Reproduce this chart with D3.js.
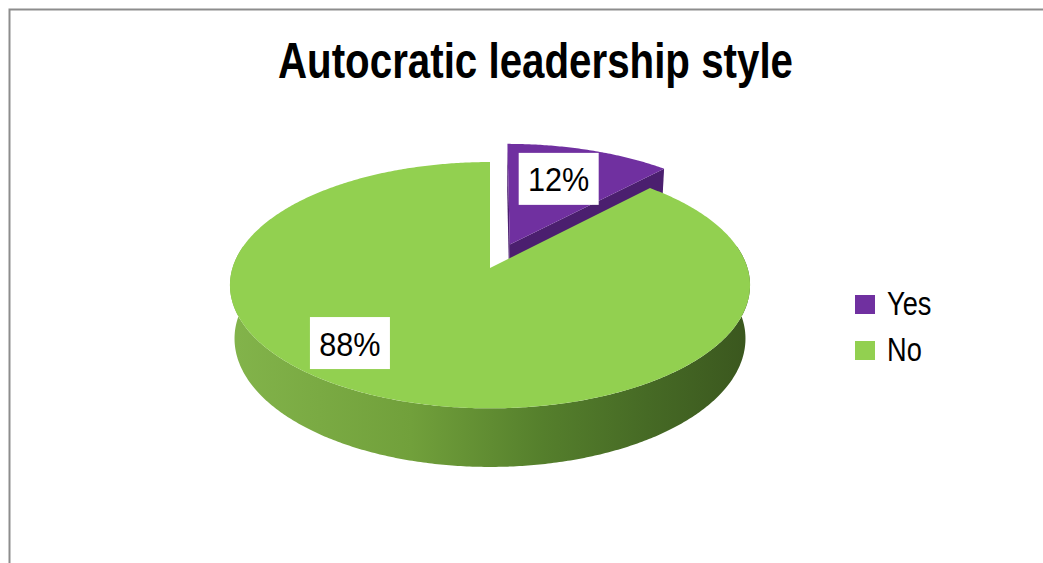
<!DOCTYPE html>
<html>
<head>
<meta charset="utf-8">
<script src="https://cdn.jsdelivr.net/npm/d3@7/dist/d3.min.js"></script>
<style>
  html, body { margin: 0; padding: 0; background: #ffffff; }
  svg { display: block; }
  text { font-family: "Liberation Sans", Arial, Helvetica, sans-serif; }
</style>
</head>
<body>
<svg id="chart" width="1043" height="563"></svg>
<script>
// Survey answers
const categories = ["Yes", "No"];
const values = [12, 88];
const valueLabels = ["12%", "88%"];
const chartTitle = "Autocratic leadership style";

// Styling
const topColors = ["#7030A0", "#92D050"];
const wallColors = ["#4B1F6F", "#5F8B31"];

const W = 1043, H = 563;
const svg = d3.select("#chart");

// Perspective camera for the tilted 3-D pie
const cam = { f: 1630, D: 6.33, tilt: Math.asin(0.469), cx: 490, cy: 268 };
const thickness = 0.237;          // pie height in radius units
const explodeBy = [0.215, 0];     // Yes slice pulled out
const sinT = Math.sin(cam.tilt), cosT = Math.cos(cam.tilt);

function project(x, z, h) {
  const depth = cam.D - z * cosT - h * sinT;
  return [cam.cx + cam.f * x / depth, cam.cy - cam.f * (h * cosT - z * sinT) / depth];
}
// point on the disc at angle a (clockwise from the far side), radius r, height h
function point(a, r, h, off) {
  return project(r * Math.sin(a) + off[0], -r * Math.cos(a) + off[1], h);
}
function arcPoints(a0, a1, r, h, off) {
  const n = Math.max(2, Math.ceil(Math.abs(a1 - a0) / 0.01));
  return d3.range(n + 1).map(i => point(a0 + (a1 - a0) * i / n, r, h, off));
}
const line = d3.line();

// frame
svg.append("path")
  .attr("d", `M9.5,${H} V9.5 H${W}`)
  .attr("fill", "none")
  .attr("stroke", "#8d8d8d")
  .attr("stroke-width", 2);

// side gradient for the green wall
const defs = svg.append("defs");
const left = project(-1, 0.14, 0)[0], right = project(1, 0.14, 0)[0];
const grad = defs.append("linearGradient")
  .attr("id", "wallGrad")
  .attr("gradientUnits", "userSpaceOnUse")
  .attr("x1", left).attr("x2", right).attr("y1", 0).attr("y2", 0);
[[0, "#83B44B"], [0.35, "#71A03B"], [0.6, "#557F2C"], [0.8, "#466A25"], [1, "#3A561E"]]
  .forEach(([o, c]) => grad.append("stop").attr("offset", o).attr("stop-color", c));

const pie = d3.pie().sort(null).startAngle(0).endAngle(2 * Math.PI);
const arcs = pie(values).map((d, i) => {
  const mid = (d.startAngle + d.endAngle) / 2;
  const e = explodeBy[i];
  return { ...d, i, mid, off: [e * Math.sin(mid), -e * Math.cos(mid)] };
});

const g = svg.append("g");

// back slices are drawn first so the front one covers them
arcs.forEach(d => {
  const { startAngle: a0, endAngle: a1, off, i } = d;
  const center = project(off[0], off[1], 0);
  const centerB = project(off[0], off[1], -thickness);

  // radial walls facing the viewer
  if (explodeBy[i] > 0) {
    [a0, a1].forEach(a => {
      const pts = [center, point(a, 1, 0, off), point(a, 1, -thickness, off), centerB];
      g.append("path").attr("d", line(pts) + "Z").attr("fill", wallColors[i]);
    });
  }

  // outer wall, front half only
  const w0 = Math.max(a0, Math.PI * 0.44), w1 = Math.min(a1, Math.PI * 1.56);
  if (w1 > w0) {
    const pts = arcPoints(w0, w1, 1, 0, off).concat(arcPoints(w1, w0, 1, -thickness, off));
    g.append("path").attr("d", line(pts) + "Z")
      .attr("fill", i === 1 ? "url(#wallGrad)" : wallColors[i]);
  }

  // top face
  const top = [center].concat(arcPoints(a0, a1, 1, 0, off));
  g.append("path").attr("d", line(top) + "Z").attr("fill", topColors[i]);
});

// value labels in white boxes
const labelPlace = [{ da: -0.04, r: 0.66 }, { da: 0.342, r: 0.76 }];
arcs.forEach(d => {
  const p = labelPlace[d.i];
  const [x, y] = point(d.mid + p.da, p.r, 0, d.off);
  const lg = svg.append("g").attr("transform", `translate(${x},${y})`);
  lg.append("rect").attr("x", -40).attr("y", -26).attr("width", 80).attr("height", 52).attr("fill", "#ffffff");
  const t = lg.append("text")
    .attr("text-anchor", "middle").attr("y", 12.5)
    .attr("font-size", 34).attr("fill", "#000")
    .text(valueLabels[d.i]);
  const len = t.node().getComputedTextLength();
  t.attr("textLength", len * 0.9).attr("lengthAdjust", "spacingAndGlyphs");
});

// title
const title = svg.append("text")
  .attr("x", 535.5).attr("y", 78)
  .attr("text-anchor", "middle")
  .attr("font-size", 50).attr("font-weight", "bold").attr("fill", "#000")
  .text(chartTitle);
title.attr("textLength", 515).attr("lengthAdjust", "spacingAndGlyphs");

// legend
const legend = svg.append("g").attr("transform", "translate(855,295)");
categories.forEach((c, i) => {
  const row = legend.append("g").attr("transform", `translate(0,${i * 46})`);
  row.append("rect").attr("width", 20).attr("height", 19).attr("fill", topColors[i]);
  const t = row.append("text").attr("x", 32).attr("y", 20)
    .attr("font-size", 34).attr("fill", "#000").text(c);
  const len = t.node().getComputedTextLength();
  t.attr("textLength", len * 0.8).attr("lengthAdjust", "spacingAndGlyphs");
});
</script>
</body>
</html>
